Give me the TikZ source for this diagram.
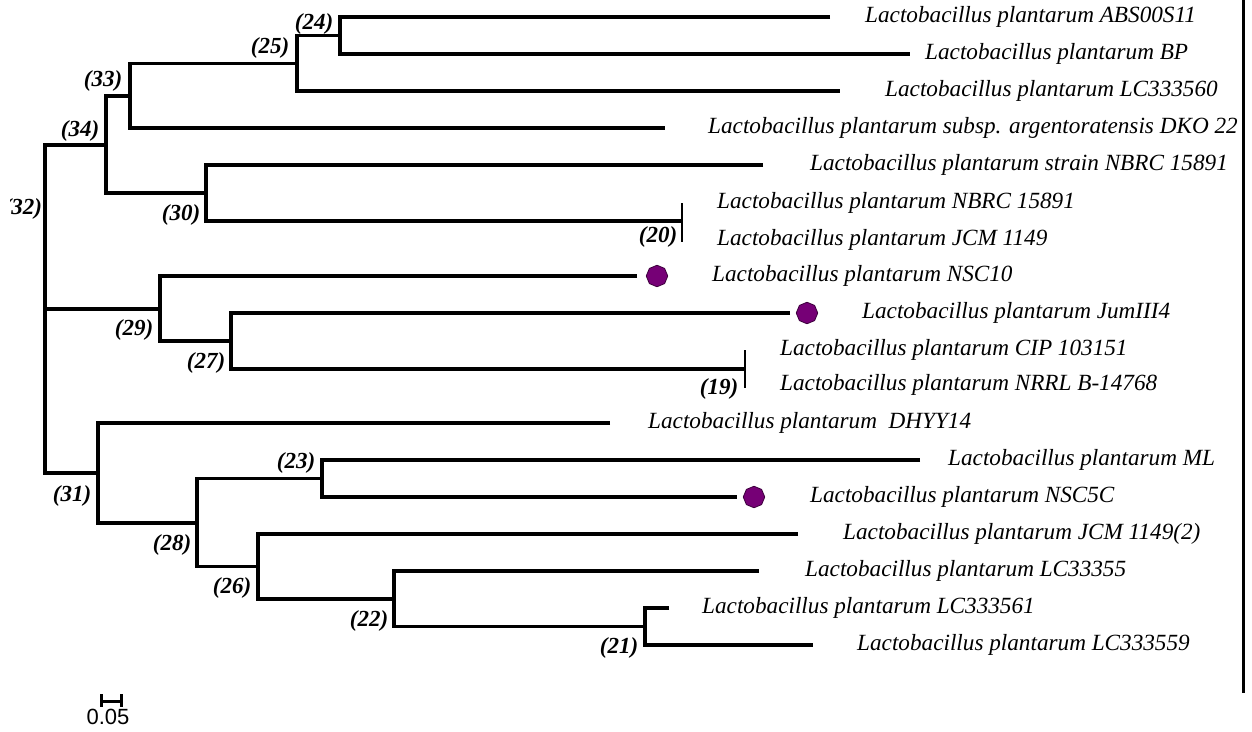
\documentclass[tikz,border=0pt]{standalone}
\usepackage{fontspec}
\setmainfont{Liberation Serif}
\newfontfamily\barfont{Liberation Sans}
\usetikzlibrary{shapes.geometric,calc}
\definecolor{dotfill}{RGB}{118,0,118}
\definecolor{dotline}{RGB}{60,0,60}

\begin{document}
\begin{tikzpicture}[x=1pt,y=-1pt,
  branch/.style={line width=3.1pt, line join=miter},
  heavy/.style={line width=4.2pt},
  fine/.style={line width=2.2pt},
  taxon/.style={anchor=west, inner sep=0pt, text height=16pt, text depth=5pt,
    font=\fontsize{23.2}{27}\selectfont\itshape},
  boot/.style={inner sep=0pt, text height=16pt, text depth=5pt,
    font=\fontsize{23}{27}\selectfont\bfseries\itshape},
  marker/.style={regular polygon, regular polygon sides=8, minimum size=21.5pt,
    inner sep=0pt, shape border rotate=22.5, fill=dotfill, draw=dotline, line width=0.8pt},
  scalebar/.style={line width=3pt}]
\useasboundingbox (0,0) rectangle (1252,731);

% branch tips
\coordinate (L1)  at (830,17);
\coordinate (L2)  at (910,54);
\coordinate (L3)  at (840,91);
\coordinate (L4)  at (665,128);
\coordinate (L5)  at (763,165);
\coordinate (L6)  at (682,203);
\coordinate (L7)  at (682,242);
\coordinate (L8)  at (637,276);
\coordinate (L9)  at (790,313);
\coordinate (L10) at (745,350);
\coordinate (L11) at (745,388);
\coordinate (L12) at (610,423);
\coordinate (L13) at (920,460);
\coordinate (L14) at (737,497);
\coordinate (L15) at (798,534);
\coordinate (L16) at (759,571);
\coordinate (L17) at (669,608);
\coordinate (L18) at (813,645);

% internal nodes
\coordinate (n24) at (340,35.5);
\coordinate (n25) at (297,63.5);
\coordinate (n33) at (130,96);
\coordinate (n20) at (682,221);
\coordinate (n30) at (206,193);
\coordinate (n34) at (106,145);
\coordinate (n19) at (745,369);
\coordinate (n27) at (231,341);
\coordinate (n29) at (160,309);
\coordinate (n23) at (322,478.5);
\coordinate (n21) at (645,626.5);
\coordinate (n22) at (394,599);
\coordinate (n26) at (258,566.5);
\coordinate (n28) at (197,523);
\coordinate (n31) at (98,473);
\coordinate (n32) at (45,309);

% tree
\draw[branch] (L1) -| (n24) |- (L2);
\draw[branch] (n24) -| (n25) |- (L3);
\draw[heavy] (L3 -| n25) -- (L3);
\draw[branch] (n25) -| (n33) |- (L4);
\draw[fine] (L6) -- (L7);
\draw[branch] (L5) -| (n30) |- (n20);
\draw[branch] (n33) -| (n34) |- (n30);
\draw[fine] (L10) -- (L11);
\draw[branch] (L9) -| (n27) |- (n19);
\draw[branch] (L8) -| (n29) |- (n27);
\draw[branch] (L13) -| (n23) |- (L14);
\draw[branch] (L17) -| (n21) |- (L18);
\draw[branch] (L16) -| (n22) |- (n21);
\draw[heavy] (L16 -| n22) -- (L16);
\draw[branch] (L15) -| (n26) |- (n22);
\draw[branch] (n23) -| (n28) |- (n26);
\draw[branch] (L12) -| (n31) |- (n28);
\draw[branch, line width=3.5pt] (n34) -| (n32) |- (n31);
\draw[branch] (n32) -- (n29);

% marked strains
\node[marker] (m1) at (657,276) {};
\node[marker] (m2) at (807,313) {};
\node[marker] (m3) at (754,497) {};

% taxon names
\node[taxon] (t1)  at (865,17)  {Lactobacillus plantarum ABS00S11};
\node[taxon] (t2)  at (925,54)  {Lactobacillus plantarum BP};
\node[taxon] (t3)  at (885,91)  {Lactobacillus plantarum LC333560};
\node[taxon] (t4)  at (708,128) {Lactobacillus plantarum subsp. argentoratensis DKO 22};
\node[taxon] (t5)  at (810,165) {Lactobacillus plantarum strain NBRC 15891};
\node[taxon] (t6)  at (717,203) {Lactobacillus plantarum NBRC 15891};
\node[taxon] (t7)  at (717,240) {Lactobacillus plantarum JCM 1149};
\node[taxon] (t8)  at (712,276) {Lactobacillus plantarum NSC10};
\node[taxon] (t9)  at (862,313) {Lactobacillus plantarum JumIII4};
\node[taxon] (t10) at (780,350) {Lactobacillus plantarum CIP 103151};
\node[taxon] (t11) at (780,385) {Lactobacillus plantarum NRRL B-14768};
\node[taxon] (t12) at (648,423) {Lactobacillus plantarum\ \ DHYY14};
\node[taxon] (t13) at (948,460) {Lactobacillus plantarum ML};
\node[taxon] (t14) at (810,497) {Lactobacillus plantarum NSC5C};
\node[taxon] (t15) at (843,534) {Lactobacillus plantarum JCM 1149(2)};
\node[taxon] (t16) at (805,571) {Lactobacillus plantarum LC33355};
\node[taxon] (t17) at (702,608) {Lactobacillus plantarum LC333561};
\node[taxon] (t18) at (857,645) {Lactobacillus plantarum LC333559};

% node numbers
\node[boot] (b24) at (314,24)  {(24)};
\node[boot] (b25) at (270,48)  {(25)};
\node[boot] (b33) at (103,81)  {(33)};
\node[boot] (b34) at (80,131)  {(34)};
\begin{scope}
  \clip (10,180) rectangle (60,240);
  \node[boot] (b32) at (23,209) {(32)};
\end{scope}
\node[boot] (b30) at (181,215) {(30)};
\node[boot] (b20) at (658,237) {(20)};
\node[boot] (b29) at (134,330) {(29)};
\node[boot] (b27) at (206,363) {(27)};
\node[boot] (b19) at (719,389) {(19)};
\node[boot] (b23) at (296,463) {(23)};
\node[boot] (b31) at (72,496)  {(31)};
\node[boot] (b28) at (172,545) {(28)};
\node[boot] (b26) at (232,588) {(26)};
\node[boot] (b22) at (369,621) {(22)};
\node[boot] (b21) at (619,648) {(21)};

% scale bar
\coordinate (s0) at (101,701);
\coordinate (s1) at (121,701);
\draw[scalebar] (s0) -- (s1);
\draw[scalebar] ($(s0)+(0,-7)$) -- ($(s0)+(0,6)$);
\draw[scalebar] ($(s1)+(0,-7)$) -- ($(s1)+(0,6)$);
\node[inner sep=0pt, font=\barfont\fontsize{22}{26}\selectfont] (sl) at (108,717) {0.05};

% frame rule on the right
\coordinate (r0) at (1243,0);
\coordinate (r1) at (1243,693);
\draw[line width=3pt] (r0) -- (r1);
\end{tikzpicture}
\end{document}
